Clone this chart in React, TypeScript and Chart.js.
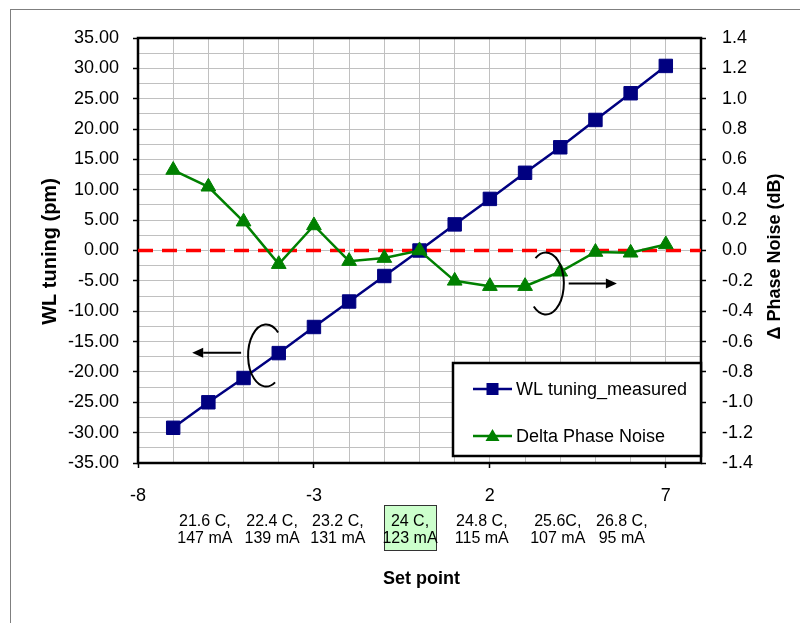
import { useEffect, useRef } from 'react';
import { Chart, registerables } from 'chart.js';
import type { Plugin } from 'chart.js';

Chart.register(...registerables);

// Set point index along the horizontal axis
const setPoints = [-7, -6, -5, -4, -3, -2, -1, 0, 1, 2, 3, 4, 5, 6, 7];
// Measured wavelength tuning (pm), left axis
const wlTuning = [-29.2, -25.0, -21.0, -16.9, -12.6, -8.4, -4.2, 0.0, 4.3, 8.5, 12.8, 17.0, 21.5, 25.9, 30.4];
// Change in phase noise (dB), right axis
const deltaPhaseNoise = [0.53, 0.42, 0.19, -0.09, 0.165, -0.07, -0.05, 0.0, -0.2, -0.235, -0.235, -0.14, -0.01, -0.015, 0.04];
// Zero reference line spanning the full x range
const zeroLineX = [-8, 8];

// Axis ranges and labelled ticks
const xRange = [-8, 8];
const xLabelledTicks = [-8, -3, 2, 7];
const leftRange = [-35, 35];
const leftLabelStep = 5;
const leftGridStep = 2.5;
const rightRange = [-1.4, 1.4];
const rightStep = 0.2;

// Temperature / current annotations for the set points
const setTemps = ['21.6 C,', '22.4 C,', '23.2 C,', '24 C,', '24.8 C,', '25.6C,', '26.8 C,'];
const setCurrents = ['147 mA', '139 mA', '131 mA', '123 mA', '115 mA', '107 mA', '95 mA'];
const nominalIndex = 3;

// Where the set-point annotations sit, in x-axis units
const setLabelAt = [-6.1, -4.19, -2.32, -0.27, 1.77, 3.93, 5.75];

const FONT = "'Liberation Sans', Arial, Helvetica, sans-serif";
const NAVY = '#000080';
const GREEN = '#008000';
const GRID = '#c0c0c0';

const range = (from: number, to: number, step: number) => {
  const out: number[] = [];
  const n = Math.round((to - from) / step);
  for (let i = 0; i <= n; i++) out.push(+(from + i * step).toFixed(6));
  return out;
};

const xGridValues = range(xRange[0], xRange[1], 1);
const leftGridValues = range(leftRange[0], leftRange[1], leftGridStep);
const rightGridValues = range(rightRange[0], rightRange[1], rightStep);

const isLeftMajor = (v: number) => Math.abs(v / leftLabelStep - Math.round(v / leftLabelStep)) < 1e-6;
const isXMajor = (v: number) => xLabelledTicks.includes(v);

function arrow(ctx: CanvasRenderingContext2D, x1: number, y: number, x2: number) {
  const dir = x2 > x1 ? 1 : -1;
  const head = 11;
  ctx.beginPath();
  ctx.moveTo(x1, y);
  ctx.lineTo(x2 - dir * head, y);
  ctx.stroke();
  ctx.beginPath();
  ctx.moveTo(x2, y);
  ctx.lineTo(x2 - dir * head, y - 5);
  ctx.lineTo(x2 - dir * head, y + 5);
  ctx.closePath();
  ctx.fill();
}

const decorations: Plugin = {
  id: 'decorations',
  beforeDraw(chart) {
    const { ctx, width, height } = chart;
    ctx.save();
    ctx.fillStyle = '#ffffff';
    ctx.fillRect(0, 0, width, height);
    ctx.strokeStyle = '#7f7f7f';
    ctx.lineWidth = 1;
    ctx.strokeRect(10.5, 9.5, width + 40, height + 40);
    ctx.restore();
  },
  beforeDatasetsDraw(chart) {
    const { ctx, chartArea: a } = chart;
    ctx.save();
    ctx.strokeStyle = '#000';
    ctx.lineWidth = 2.5;
    ctx.strokeRect(a.left, a.top, a.right - a.left, a.bottom - a.top);
    ctx.restore();
  },
  afterDraw(chart) {
    const { ctx, chartArea: a } = chart;
    const x = chart.scales.x;
    const y = chart.scales.y;
    ctx.save();

    // Axis titles
    ctx.fillStyle = '#000';
    ctx.textAlign = 'center';
    ctx.textBaseline = 'middle';
    ctx.font = `bold 20px ${FONT}`;
    ctx.save();
    ctx.translate(50, (a.top + a.bottom) / 2 + 1);
    ctx.rotate(-Math.PI / 2);
    ctx.fillText('WL tuning (pm)', 0, 0);
    ctx.restore();
    ctx.font = `bold 18px ${FONT}`;
    ctx.save();
    ctx.translate(775, (a.top + a.bottom) / 2 + 6);
    ctx.rotate(-Math.PI / 2);
    ctx.fillText('\u0394 Phase Noise (dB)', 0, 0);
    ctx.restore();
    ctx.fillText('Set point', (a.left + a.right) / 2 + 2, 579);

    // Set-point temperature / current annotations
    ctx.font = `16px ${FONT}`;
    setTemps.forEach((t, i) => {
      const cx = x.getPixelForValue(setLabelAt[i]);
      if (i === nominalIndex) {
        ctx.fillStyle = '#ccffcc';
        ctx.fillRect(cx - 25.5, 505.5, 52, 45);
        ctx.strokeStyle = '#333';
        ctx.lineWidth = 1;
        ctx.strokeRect(cx - 25.5, 505.5, 52, 45);
      }
      ctx.fillStyle = '#000';
      ctx.fillText(t, cx, 522);
      ctx.fillText(setCurrents[i], cx, 539);
    });

    // Bracket and arrow pointing at the left axis
    ctx.strokeStyle = '#000';
    ctx.fillStyle = '#000';
    ctx.lineWidth = 2;
    const lcx = x.getPixelForValue(-4.36);
    const lcy = y.getPixelForValue(-17.3);
    ctx.beginPath();
    ctx.ellipse(lcx, lcy, 18, 31, 0, (-48 * Math.PI) / 180, (60 * Math.PI) / 180, true);
    ctx.stroke();
    const lay = y.getPixelForValue(-16.85);
    arrow(ctx, x.getPixelForValue(-5.07), lay, x.getPixelForValue(-6.46));

    // Bracket and arrow pointing at the right axis
    const rcx = x.getPixelForValue(3.59);
    const rcy = y.getPixelForValue(-5.44);
    ctx.beginPath();
    ctx.ellipse(rcx, rcy, 18, 31, 0, (-125 * Math.PI) / 180, (132 * Math.PI) / 180, false);
    ctx.stroke();
    arrow(ctx, x.getPixelForValue(4.24), rcy, x.getPixelForValue(5.61));

    // Legend box
    const lx = 453;
    const ly = 363;
    const lw = a.right - lx;
    const lh = 93;
    ctx.fillStyle = '#fff';
    ctx.fillRect(lx, ly, lw, lh);
    ctx.strokeStyle = '#000';
    ctx.lineWidth = 2.5;
    ctx.strokeRect(lx, ly, lw, lh);

    const entries = [
      { label: 'WL tuning_measured', color: NAVY, marker: 'rect', yy: 389 },
      { label: 'Delta Phase Noise', color: GREEN, marker: 'triangle', yy: 436 },
    ];
    ctx.font = `18px ${FONT}`;
    ctx.textAlign = 'left';
    entries.forEach((e) => {
      ctx.strokeStyle = e.color;
      ctx.fillStyle = e.color;
      ctx.lineWidth = 2.5;
      ctx.beginPath();
      ctx.moveTo(473, e.yy);
      ctx.lineTo(512, e.yy);
      ctx.stroke();
      const mx = 492.5;
      if (e.marker === 'rect') {
        ctx.fillRect(mx - 6, e.yy - 6, 12, 12);
      } else {
        ctx.beginPath();
        ctx.moveTo(mx, e.yy - 7);
        ctx.lineTo(mx + 7, e.yy + 5);
        ctx.lineTo(mx - 7, e.yy + 5);
        ctx.closePath();
        ctx.fill();
      }
      ctx.fillStyle = '#000';
      ctx.fillText(e.label, 516, e.yy + 1);
    });

    ctx.restore();
  },
};

export default function App() {
  const canvasRef = useRef<HTMLCanvasElement | null>(null);

  useEffect(() => {
    const canvas = canvasRef.current;
    if (!canvas) return;

    const chart = new Chart(canvas, {
      type: 'line',
      data: {
        datasets: [
          {
            label: 'WL tuning_measured',
            data: setPoints.map((sp, i) => ({ x: sp, y: wlTuning[i] })),
            yAxisID: 'y',
            borderColor: NAVY,
            backgroundColor: NAVY,
            borderWidth: 2.5,
            pointStyle: 'rect',
            pointRadius: 9.5,
            pointBorderWidth: 1,
            tension: 0,
            order: 2,
          },
          {
            label: 'Delta Phase Noise',
            data: setPoints.map((sp, i) => ({ x: sp, y: deltaPhaseNoise[i] })),
            yAxisID: 'y1',
            borderColor: GREEN,
            backgroundColor: GREEN,
            borderWidth: 2.5,
            pointStyle: 'triangle',
            pointRadius: 8.5,
            pointBorderWidth: 1,
            tension: 0,
            order: 1,
          },
          {
            label: 'zero',
            data: zeroLineX.map((x) => ({ x, y: 0 })),
            yAxisID: 'y',
            borderColor: '#ff0000',
            borderWidth: 3.5,
            borderDash: [15, 9],
            pointRadius: 0,
            order: 3,
          },
        ],
      },
      options: {
        responsive: false,
        animation: false,
        events: [],
        layout: { padding: { top: 38, left: 0, right: 0, bottom: 0 } },
        plugins: {
          legend: { display: false },
          tooltip: { enabled: false },
        },
        scales: {
          x: {
            type: 'linear',
            position: 'bottom',
            min: xRange[0],
            max: xRange[1],
            afterBuildTicks: (s: any) => {
              s.ticks = xGridValues.map((value) => ({ value }));
            },
            afterFit: (s: any) => {
              s.height = 160;
            },
            ticks: {
              autoSkip: false,
              maxRotation: 0,
              padding: 17,
              color: '#000',
              font: { family: FONT, size: 18 },
              callback: (v: any) => (isXMajor(Number(v)) ? String(v) : ''),
            },
            grid: {
              color: GRID,
              lineWidth: 1,
              tickLength: 5,
              tickWidth: 1.5,
              tickColor: (c: any) => (c.tick && isXMajor(c.tick.value) ? '#000' : 'rgba(0,0,0,0)'),
            },
            border: { display: false },
          },
          y: {
            type: 'linear',
            position: 'left',
            min: leftRange[0],
            max: leftRange[1],
            afterBuildTicks: (s: any) => {
              s.ticks = leftGridValues.map((value) => ({ value }));
            },
            afterFit: (s: any) => {
              s.width = 138;
            },
            ticks: {
              autoSkip: false,
              padding: 14,
              color: '#000',
              font: { family: FONT, size: 18 },
              callback: (v: any) => (isLeftMajor(Number(v)) ? Number(v).toFixed(2) : ''),
            },
            grid: {
              color: GRID,
              lineWidth: 1,
              tickLength: 5,
              tickWidth: 1.5,
              tickColor: (c: any) => (c.tick && isLeftMajor(c.tick.value) ? '#000' : 'rgba(0,0,0,0)'),
            },
            border: { display: false },
          },
          y1: {
            type: 'linear',
            position: 'right',
            min: rightRange[0],
            max: rightRange[1],
            afterBuildTicks: (s: any) => {
              s.ticks = rightGridValues.map((value) => ({ value }));
            },
            afterFit: (s: any) => {
              s.width = 99;
            },
            ticks: {
              autoSkip: false,
              padding: 16,
              color: '#000',
              font: { family: FONT, size: 18 },
              callback: (v: any) => {
                const n = Number(v);
                return (Math.abs(n) < 1e-9 ? 0 : n).toFixed(1);
              },
            },
            grid: {
              drawOnChartArea: false,
              tickLength: 5,
              tickWidth: 1.5,
              tickColor: '#000',
            },
            border: { display: false },
          },
        },
      },
      plugins: [decorations],
    });

    return () => chart.destroy();
  }, []);

  return (
    <div style={{ position: 'fixed', left: 0, top: 0, width: 800, height: 623, background: '#fff' }}>
      <canvas ref={canvasRef} width={800} height={623} style={{ width: 800, height: 623, display: 'block' }} />
    </div>
  );
}
